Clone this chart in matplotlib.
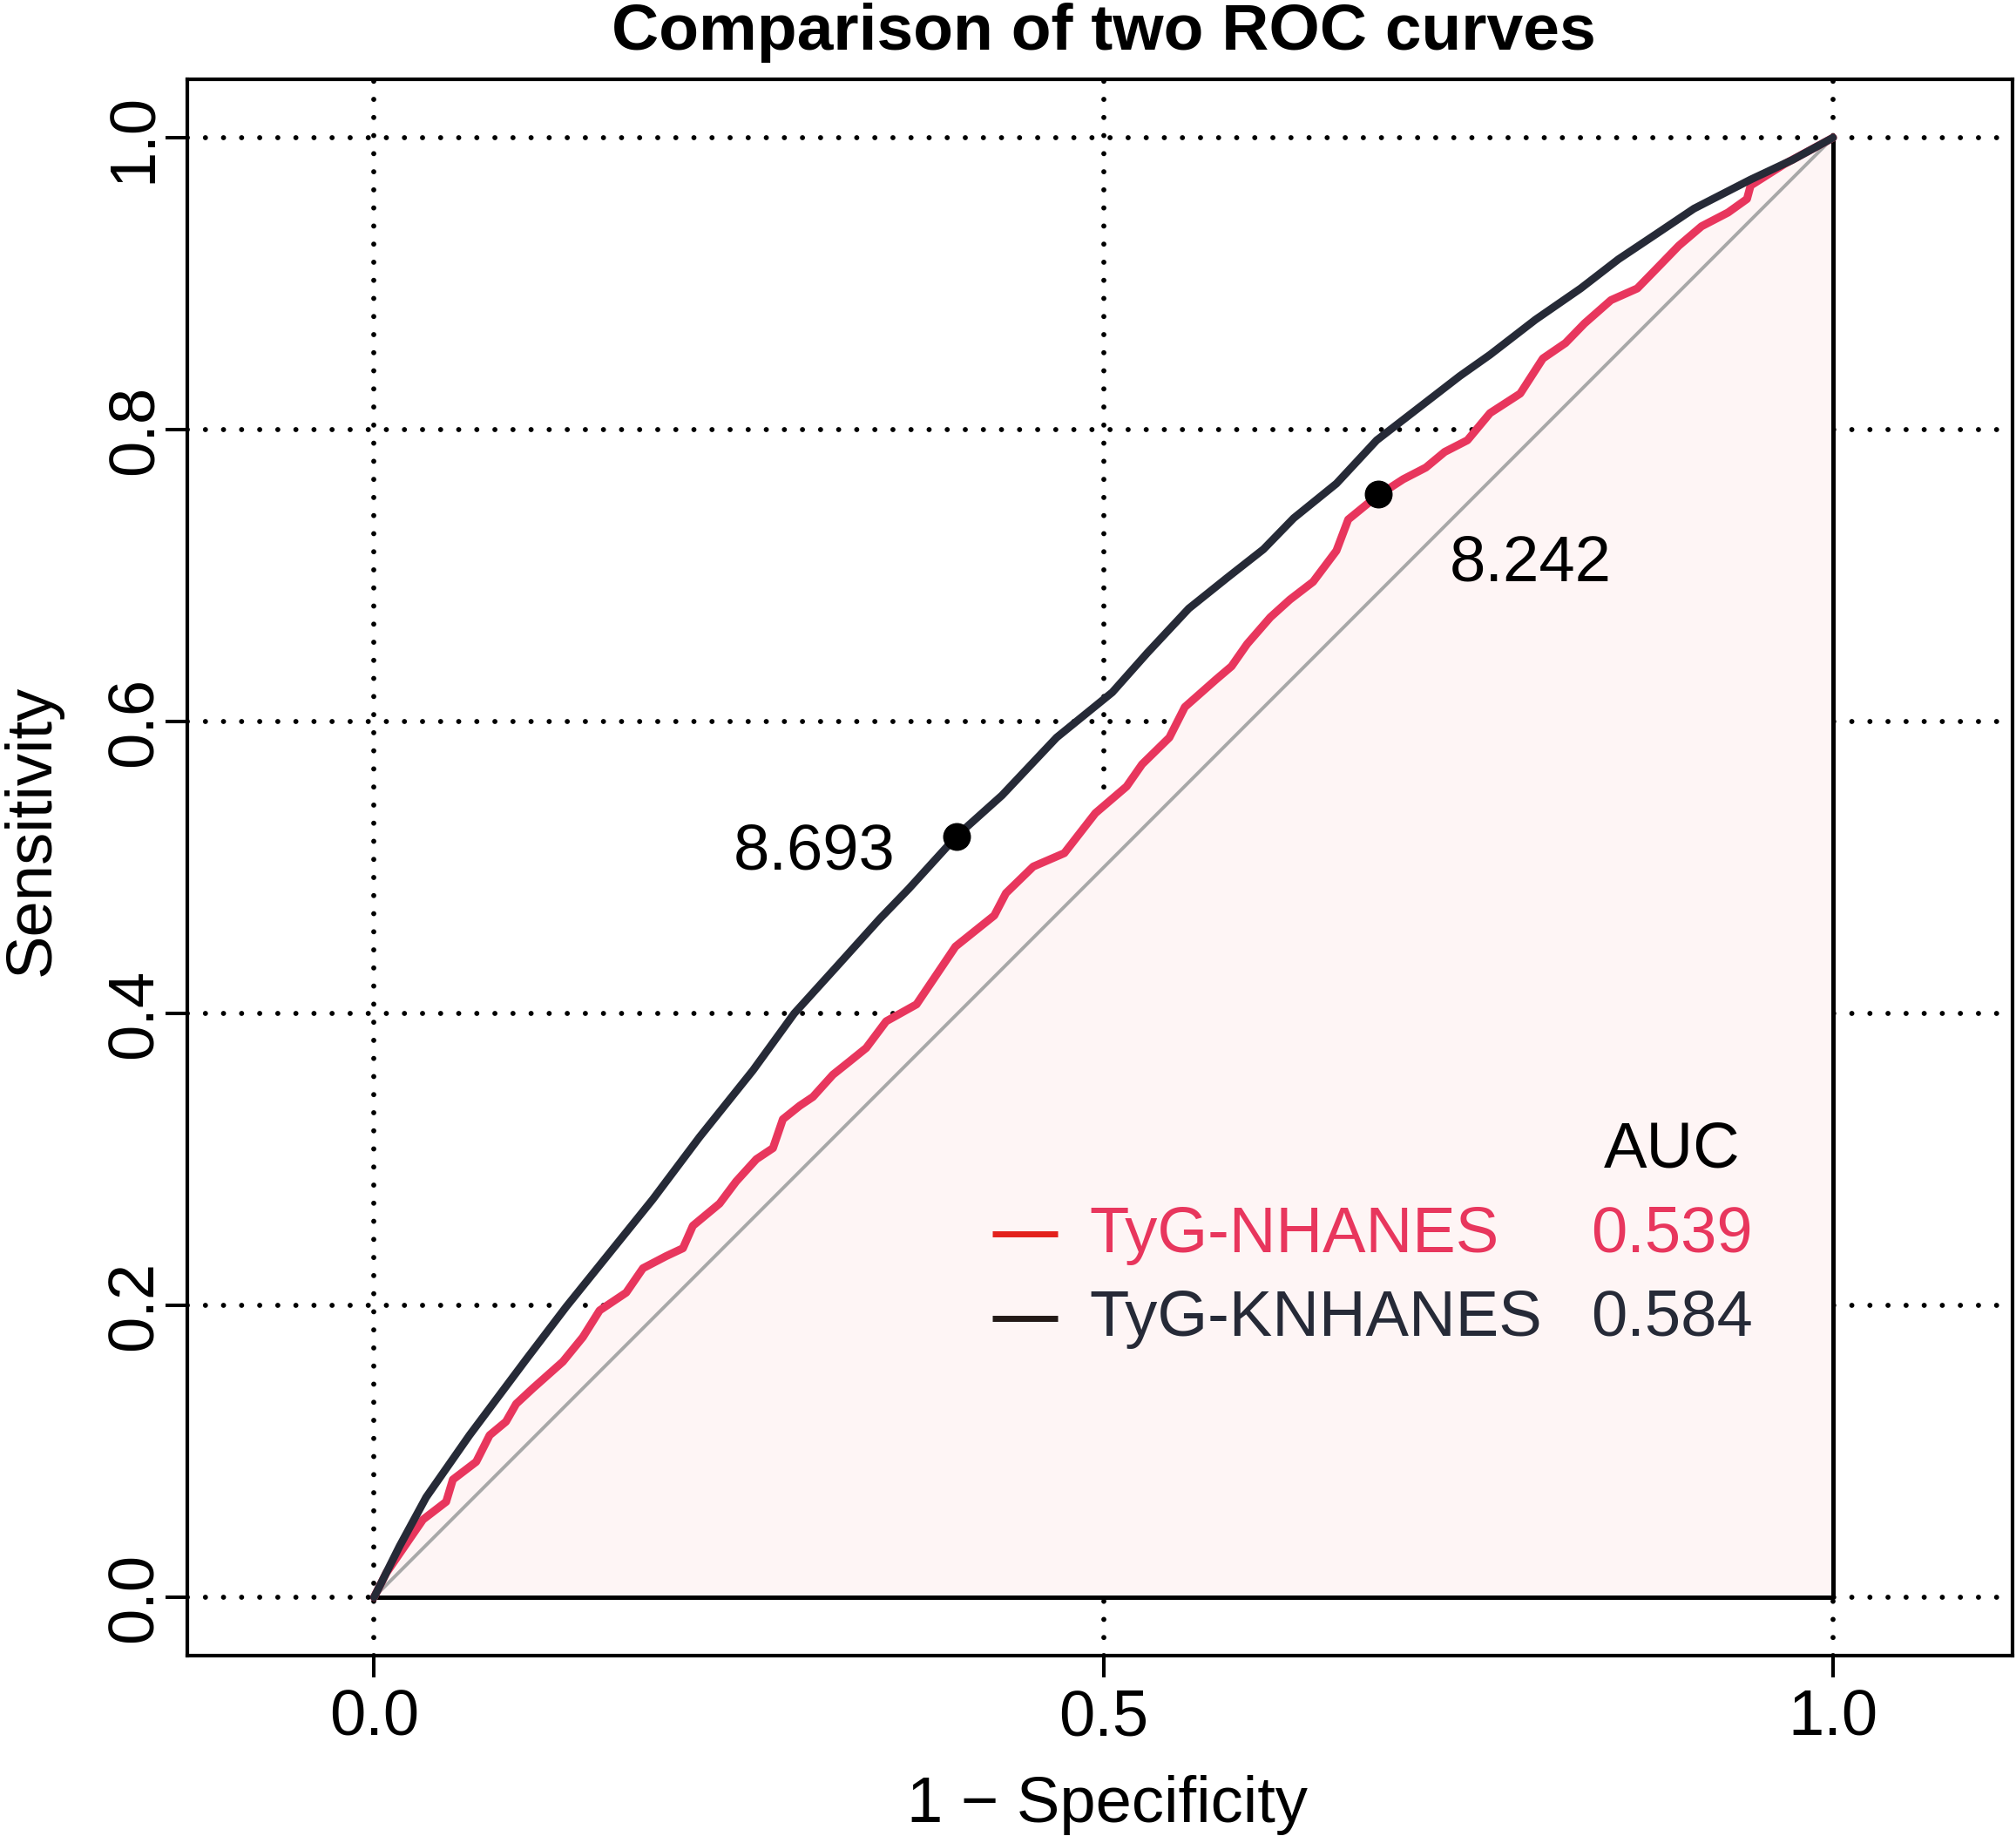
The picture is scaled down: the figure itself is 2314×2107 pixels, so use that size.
import matplotlib
matplotlib.use("Agg")
import matplotlib.pyplot as plt

plt.rcParams['font.family'] = ['Liberation Sans', 'DejaVu Sans']

# ---------------- data ----------------
nhanes_fpr = [0.0, 0.0084, 0.0335, 0.0494, 0.054, 0.070, 0.0792, 0.0904, 0.0974, 0.1088,
              0.1294, 0.1431, 0.1546, 0.1728, 0.1843, 0.2002, 0.2117, 0.2185, 0.2368, 0.2482,
              0.262, 0.2734, 0.2802, 0.2917, 0.3008, 0.3145, 0.3259, 0.3373, 0.351, 0.3718,
              0.3985, 0.4251, 0.4331, 0.4518, 0.4731, 0.4944, 0.5158, 0.5264, 0.5451, 0.5557,
              0.577, 0.5877, 0.5984, 0.6143, 0.6277, 0.6436, 0.6596, 0.6677, 0.6863, 0.7054,
              0.7209, 0.7338, 0.7494, 0.7649, 0.7856, 0.8011, 0.8166, 0.8296, 0.8478, 0.8658,
              0.8814, 0.8943, 0.9099, 0.928, 0.941, 0.9435, 0.9668, 1.0]
nhanes_tpr = [0.0, 0.0167, 0.0532, 0.0654, 0.0806, 0.0928, 0.111, 0.1203, 0.1325, 0.1431,
              0.1614, 0.1782, 0.1965, 0.2087, 0.2254, 0.2337, 0.2391, 0.2545, 0.2697, 0.2849,
              0.3001, 0.3077, 0.3275, 0.3367, 0.3428, 0.358, 0.3671, 0.3763, 0.3946, 0.4062,
              0.4458, 0.4671, 0.4824, 0.5006, 0.5098, 0.5372, 0.5555, 0.5707, 0.589, 0.6099,
              0.6287, 0.6378, 0.6531, 0.6714, 0.6835, 0.6957, 0.717, 0.7384, 0.7536, 0.766,
              0.774, 0.7847, 0.7927, 0.8113, 0.8247, 0.8487, 0.8593, 0.8727, 0.8887, 0.8967,
              0.9127, 0.926, 0.9393, 0.9487, 0.958, 0.9672, 0.982, 1.0]

knhanes_fpr = [0.0, 0.0175, 0.0357, 0.0654, 0.1043, 0.1317, 0.1591, 0.1911, 0.2231, 0.2597,
               0.2880, 0.3190, 0.3465, 0.3665, 0.3998, 0.4304, 0.4678, 0.5060,
               0.5300, 0.5584, 0.5850, 0.6096, 0.6303, 0.6596, 0.6872, 0.7183, 0.7442, 0.7649,
               0.7960, 0.8270, 0.8529, 0.8788, 0.9047, 0.9435, 0.9720, 1.0]
knhanes_tpr = [0.0, 0.0350, 0.0685, 0.1110, 0.1630, 0.1990, 0.2330, 0.2727, 0.3153, 0.3610,
               0.4000, 0.4342, 0.4647, 0.4854, 0.5220, 0.5494, 0.5890, 0.6200,
               0.6470, 0.6774, 0.6987, 0.7180, 0.7393, 0.7630, 0.7927, 0.8167, 0.8367, 0.8513,
               0.8753, 0.8967, 0.9167, 0.9340, 0.9514, 0.9713, 0.9847, 1.0]

series_names = ["TyG-NHANES", "TyG-KNHANES"]
auc_values = ["0.539", "0.584"]
thresholds = ["8.242", "8.693"]
thr_fpr = [0.688, 0.399]
thr_tpr = [0.756, 0.521]

xticks = [0.0, 0.5, 1.0]
xtick_labels = ["0.0", "0.5", "1.0"]
yticks = [0.0, 0.2, 0.4, 0.6, 0.8, 1.0]
ytick_labels = ["0.0", "0.2", "0.4", "0.6", "0.8", "1.0"]

# ---------------- style ----------------
RED = '#E8365D'
DARK = '#262A37'
FS = 53.5
W, H = 2314, 2107

fig = plt.figure(figsize=(W / 100, H / 100), dpi=100)
ax = fig.add_axes([215 / W, 1 - 1900 / H, 2095 / W, 1809 / H])
ax.set_xlim(-0.128, 1.123)
ax.set_ylim(-0.04, 1.04)

ax.set_xticks(xticks)
ax.set_xticklabels(xtick_labels, fontsize=FS)
ax.set_yticks(yticks)
ax.set_yticklabels(ytick_labels, fontsize=FS, rotation=90, va='center', ha='right')
ax.set_axisbelow(True)
ax.grid(True, color='black', linewidth=4.2, linestyle=(0, (0.01, 3.55)),
        dash_capstyle='round')
ax.tick_params(axis='both', direction='out', length=18, width=2.9, color='black')
ax.tick_params(axis='x', pad=9)
ax.tick_params(axis='y', pad=0.5)
for s in ax.spines.values():
    s.set_linewidth(3.0)
    s.set_color('black')

# AUC polygon under the first curve
ax.fill_between(nhanes_fpr, nhanes_tpr, 0, facecolor='#FEF5F5', edgecolor='black',
                linewidth=3.6, zorder=1)
# chance diagonal
ax.plot([0, 1], [0, 1], color='#A8A8A8', linewidth=2.8, zorder=2)

# ROC curves
ax.plot(nhanes_fpr, nhanes_tpr, color=RED, linewidth=6.6, zorder=3,
        solid_joinstyle='round', solid_capstyle='round')
ax.plot(knhanes_fpr, knhanes_tpr, color=DARK, linewidth=6.4, zorder=4,
        solid_joinstyle='round', solid_capstyle='round')

# best thresholds
ax.plot(thr_fpr, thr_tpr, 'o', color='black', markersize=22, zorder=5)
ax.text((1664 - 429) / 1675, (1833 - 667) / 1674, thresholds[0], fontsize=FS,
        ha='left', va='baseline', color='black', zorder=6)
ax.text((1027 - 429) / 1675, (1833 - 998) / 1674, thresholds[1], fontsize=FS,
        ha='right', va='baseline', color='black', zorder=6)


def dx(px):
    return (px - 429) / 1675


def dy(py):
    return (1833 - py) / 1674


# legend (drawn manually to mimic R layout)
ax.text(dx(1919), dy(1340), "AUC", fontsize=FS, ha='center', va='baseline', color='black')
leg_line_cols = ['#E3211C', '#231916']
leg_text_cols = [RED, DARK]
line_y = [1416, 1513]
base_y = [1437, 1533]
for i in range(2):
    ax.plot([dx(1139), dx(1214)], [dy(line_y[i])] * 2, color=leg_line_cols[i],
            linewidth=5.0, solid_capstyle='butt', zorder=6)
    ax.text(dx(1250), dy(base_y[i]), series_names[i], fontsize=FS, ha='left',
            va='baseline', color=leg_text_cols[i], zorder=6)
    ax.text(dx(2012), dy(base_y[i]), auc_values[i], fontsize=FS, ha='right',
            va='baseline', color=leg_text_cols[i], zorder=6)

# titles / axis labels
fig.text(1267 / W, 1 - 57 / H, "Comparison of two ROC curves", fontsize=54,
         fontweight='bold', ha='center', va='baseline')
fig.text(1271 / W, 1 - 2091 / H, "1 \u2212 Specificity", fontsize=FS,
         ha='center', va='baseline')
fig.text(57 / W, 1 - 953 / H, "Sensitivity", fontsize=FS, rotation=90,
         rotation_mode='anchor', ha='center', va='baseline')

fig.savefig("out.png", dpi=100)
